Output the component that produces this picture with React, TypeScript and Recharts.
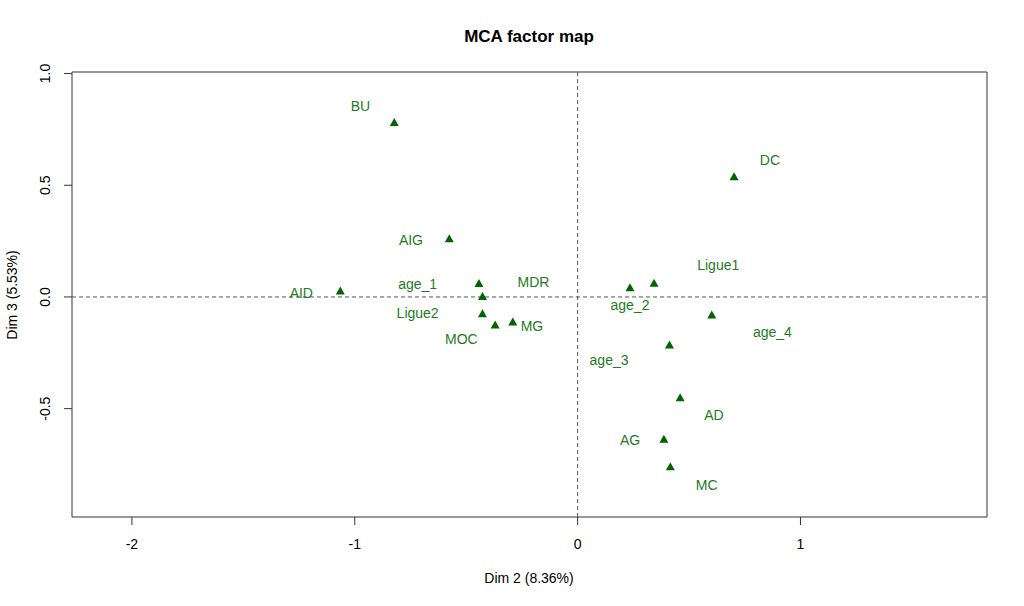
import { ScatterChart, Scatter, XAxis, YAxis, ReferenceLine, ReferenceArea } from 'recharts'

const categories = ['BU', 'DC', 'AIG', 'AID', 'age_1', 'MDR', 'Ligue2', 'MOC', 'MG', 'age_2', 'Ligue1', 'age_4', 'age_3', 'AD', 'AG', 'MC']
const dim2 = [-0.823, 0.702, -0.576, -1.065, -0.443, -0.427, -0.427, -0.370, -0.291, 0.235, 0.343, 0.602, 0.412, 0.460, 0.387, 0.416]
const dim3 = [0.783, 0.540, 0.263, 0.029, 0.062, 0.004, -0.073, -0.123, -0.110, 0.044, 0.064, -0.078, -0.213, -0.449, -0.635, -0.758]
// where the text labels sit (already shifted off the points)
const labelDim2 = [-0.975, 0.863, -0.748, -1.240, -0.718, -0.198, -0.718, -0.522, -0.205, 0.235, 0.631, 0.874, 0.141, 0.612, 0.235, 0.579]
const labelDim3 = [0.853, 0.611, 0.257, 0.019, 0.059, 0.069, -0.073, -0.189, -0.128, -0.034, 0.142, -0.155, -0.284, -0.529, -0.640, -0.840]

const xTicks = [-2, -1, 0, 1]
const yTicks = [-0.5, 0, 0.5, 1]
const xDomain = [-2.269, 1.837]
const yDomain = [-0.985, 1.007]

const FONT = '"Liberation Sans", Arial, Helvetica, sans-serif'
const GREEN = '#006400'
const LABEL_GREEN = '#1e7b1e'

const points = categories.map((name, i) => ({ name, x: dim2[i], y: dim3[i] }))
const labels = categories.map((name, i) => ({ name, x: labelDim2[i], y: labelDim3[i] }))

const Triangle = (props: any) => {
    const { cx, cy } = props
    if (cx == null || cy == null) return null
    return <polygon points={`${cx},${cy - 4} ${cx - 4.5},${cy + 4} ${cx + 4.5},${cy + 4}`} fill={GREEN} />
}

const LabelText = (props: any) => {
    const { cx, cy, payload } = props
    if (cx == null || cy == null) return null
    return (
        <text x={cx} y={cy} textAnchor="middle" dominantBaseline="central" fill={LABEL_GREEN} fontSize={14} fontFamily={FONT}>
            {payload.name}
        </text>
    )
}

const XTick = (props: any) => {
    const { x, y, payload } = props
    return (
        <text x={x} y={y} textAnchor="middle" dominantBaseline="central" fill="#000" fontSize={14} fontFamily={FONT}>
            {payload.value}
        </text>
    )
}

const YTick = (props: any) => {
    const { x, y, payload } = props
    return (
        <text x={x} y={y} transform={`rotate(-90, ${x}, ${y})`} textAnchor="middle" dominantBaseline="central" fill="#000" fontSize={14} fontFamily={FONT}>
            {Number(payload.value).toFixed(1)}
        </text>
    )
}

export default function App() {
    return (
        <div style={{ position: 'absolute', left: 0, top: 0, width: 1024, height: 606, background: '#fff', fontFamily: FONT }}>
            <ScatterChart width={1024} height={606} margin={{ top: 72, right: 37, bottom: 49, left: 12 }}>
                <XAxis
                    type="number"
                    dataKey="x"
                    domain={xDomain}
                    ticks={xTicks}
                    allowDataOverflow
                    axisLine={false}
                    tickSize={8}
                    tickMargin={19}
                    tickLine={{ stroke: '#333' }}
                    tick={<XTick />}
                    height={40}
                />
                <YAxis
                    type="number"
                    dataKey="y"
                    domain={yDomain}
                    ticks={yTicks}
                    allowDataOverflow
                    axisLine={false}
                    tickSize={8}
                    tickMargin={19}
                    tickLine={{ stroke: '#333' }}
                    tick={<YTick />}
                    width={60}
                />
                <ReferenceArea x1={xDomain[0]} x2={xDomain[1]} y1={yDomain[0]} y2={yDomain[1]} fill="none" fillOpacity={0} stroke="#333" strokeWidth={1} />
                <ReferenceLine x={0} stroke="#555" strokeDasharray="4 3" />
                <ReferenceLine y={0} stroke="#555" strokeDasharray="4 3" />
                <Scatter data={points} shape={<Triangle />} isAnimationActive={false} />
                <Scatter data={labels} shape={<LabelText />} isAnimationActive={false} />
            </ScatterChart>
            <div style={{ position: 'absolute', left: 529, top: 37, transform: 'translate(-50%, -50%)', fontWeight: 'bold', fontSize: 17, whiteSpace: 'nowrap' }}>
                MCA factor map
            </div>
            <div style={{ position: 'absolute', left: 529, top: 578, transform: 'translate(-50%, -50%)', fontSize: 14, whiteSpace: 'nowrap' }}>
                Dim 2 (8.36%)
            </div>
            <div style={{ position: 'absolute', left: 12, top: 295, transform: 'translate(-50%, -50%) rotate(-90deg)', fontSize: 14, whiteSpace: 'nowrap' }}>
                Dim 3 (5.53%)
            </div>
        </div>
    )
}
